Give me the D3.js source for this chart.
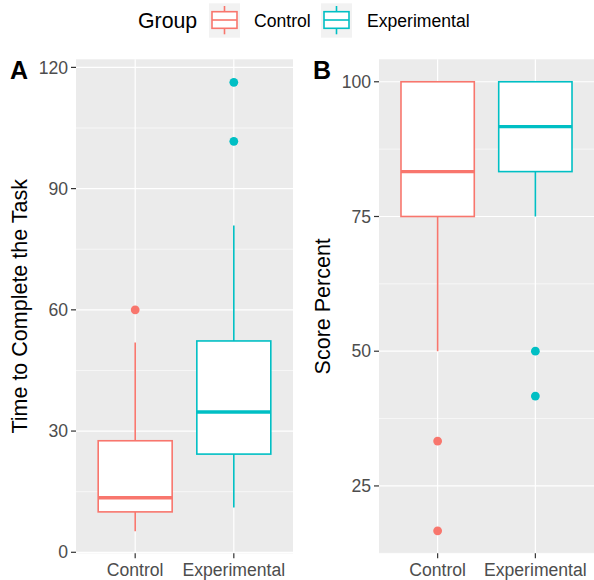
<!DOCTYPE html>
<html><head><meta charset="utf-8">
<script src="https://cdn.jsdelivr.net/npm/d3@7"></script>
<style>body{margin:0;background:#fff}svg{display:block}</style>
</head><body>
<svg id="chart" width="594" height="580"></svg>
<script>
const groups = ["Control", "Experimental"];
const colors = ["#F8766D", "#00BFC4"];
// Panel A: Time to Complete the Task
const timeQ1 = [10, 24.3];
const timeMedian = [13.5, 34.7];
const timeQ3 = [27.6, 52.3];
const timeWhiskLow = [5.2, 11.1];
const timeWhiskHigh = [51.9, 80.9];
const timeOutliers = [[60], [101.7, 116.3]];
const timeTicks = [0, 30, 60, 90, 120];
const timeMinor = [15, 45, 75, 105];
// Panel B: Score Percent
const scoreQ1 = [75, 83.33];
const scoreMedian = [83.33, 91.67];
const scoreQ3 = [100, 100];
const scoreWhiskLow = [50, 75];
const scoreWhiskHigh = [100, 100];
const scoreOutliers = [[33.33, 16.67], [50, 41.67]];
const scoreTicks = [25, 50, 75, 100];
const scoreMinor = [12.5, 37.5, 62.5, 87.5];

const svg = d3.select("#chart");
const tickCol = "#4D4D4D";
const FONT = "Liberation Sans, Arial, sans-serif";

function panel(opt) {
  // discrete axis with 0.6 expansion on each side
  const x = d3.scalePoint().domain(groups).range([opt.x0, opt.x1]).padding(0.6);
  const step = x.step();
  const y = d3.scaleLinear().domain(opt.yDomain).range([opt.y1, opt.y0]);
  const g = svg.append("g");
  g.append("rect").attr("x", opt.x0).attr("y", opt.y0).attr("width", opt.x1 - opt.x0).attr("height", opt.y1 - opt.y0).attr("fill", "#EBEBEB");
  g.selectAll(".minor").data(opt.minor.filter(v => y(v) >= opt.y0 && y(v) <= opt.y1)).enter().append("line")
    .attr("x1", opt.x0).attr("x2", opt.x1).attr("y1", d => y(d)).attr("y2", d => y(d))
    .attr("stroke", "#fff").attr("stroke-width", 0.6);
  g.selectAll(".major").data(opt.ticks).enter().append("line")
    .attr("x1", opt.x0).attr("x2", opt.x1).attr("y1", d => y(d)).attr("y2", d => y(d))
    .attr("stroke", "#fff").attr("stroke-width", 1.2);
  g.selectAll(".vmajor").data(groups).enter().append("line")
    .attr("x1", d => x(d)).attr("x2", d => x(d)).attr("y1", opt.y0).attr("y2", opt.y1)
    .attr("stroke", "#fff").attr("stroke-width", 1.2);
  g.selectAll(".yt").data(opt.ticks).enter().append("line")
    .attr("x1", opt.x0 - 5).attr("x2", opt.x0).attr("y1", d => y(d)).attr("y2", d => y(d))
    .attr("stroke", "#333").attr("stroke-width", 1.2);
  g.selectAll(".yl").data(opt.ticks).enter().append("text")
    .attr("x", opt.x0 - 8).attr("y", d => y(d)).attr("dy", "0.35em").attr("text-anchor", "end")
    .attr("font-family", FONT).attr("font-size", 17.6).attr("fill", tickCol)
    .text(d => d);
  g.selectAll(".xt").data(groups).enter().append("line")
    .attr("x1", d => x(d)).attr("x2", d => x(d)).attr("y1", opt.y1).attr("y2", opt.y1 + 5)
    .attr("stroke", "#333").attr("stroke-width", 1.2);
  g.selectAll(".xl").data(groups).enter().append("text")
    .attr("x", d => x(d)).attr("y", 576).attr("text-anchor", "middle")
    .attr("font-family", FONT).attr("font-size", 17.6).attr("fill", tickCol)
    .text(d => d);
  const bw = 0.75 * step;
  groups.forEach((grp, i) => {
    const cx = x(grp), col = colors[i];
    if (opt.wh[i] > opt.q3[i])
      g.append("line").attr("x1", cx).attr("x2", cx).attr("y1", y(opt.q3[i])).attr("y2", y(opt.wh[i])).attr("stroke", col).attr("stroke-width", 1.6);
    if (opt.wl[i] < opt.q1[i])
      g.append("line").attr("x1", cx).attr("x2", cx).attr("y1", y(opt.q1[i])).attr("y2", y(opt.wl[i])).attr("stroke", col).attr("stroke-width", 1.6);
    g.append("rect").attr("x", cx - bw / 2).attr("width", bw)
      .attr("y", y(opt.q3[i])).attr("height", y(opt.q1[i]) - y(opt.q3[i]))
      .attr("fill", "#fff").attr("stroke", col).attr("stroke-width", 1.6);
    g.append("line").attr("x1", cx - bw / 2).attr("x2", cx + bw / 2).attr("y1", y(opt.med[i])).attr("y2", y(opt.med[i]))
      .attr("stroke", col).attr("stroke-width", 3.4);
    g.selectAll(null).data(opt.out[i]).enter().append("circle")
      .attr("cx", cx).attr("cy", d => y(d)).attr("r", 4.4).attr("fill", col);
  });
  g.append("text").attr("transform", `translate(${opt.titleX},${(opt.y0 + opt.y1) / 2}) rotate(-90)`)
    .attr("text-anchor", "middle").attr("font-family", FONT).attr("font-size", 21.5).attr("fill", "#000")
    .text(opt.title);
  g.append("text").attr("x", opt.tagX).attr("y", 78.5).attr("font-family", FONT)
    .attr("font-size", 25).attr("font-weight", "bold").attr("fill", "#000").text(opt.tag);
}

panel({x0: 76, x1: 293, y0: 59.3, y1: 553.3, yDomain: [-0.25, 122], ticks: timeTicks, minor: timeMinor,
  q1: timeQ1, med: timeMedian, q3: timeQ3, wl: timeWhiskLow, wh: timeWhiskHigh, out: timeOutliers,
  title: "Time to Complete the Task", titleX: 27, tag: "A", tagX: 10});
panel({x0: 379, x1: 594, y0: 59.3, y1: 553.3, yDomain: [12.5, 104.17], ticks: scoreTicks, minor: scoreMinor,
  q1: scoreQ1, med: scoreMedian, q3: scoreQ3, wl: scoreWhiskLow, wh: scoreWhiskHigh, out: scoreOutliers,
  title: "Score Percent", titleX: 330, tag: "B", tagX: 313});

const lg = svg.append("g");
lg.append("text").attr("x", 138).attr("y", 28).attr("font-family", FONT)
  .attr("font-size", 21.3).attr("fill", "#000").text("Group");
const keyX = [209, 321];
const labX = [254, 367];
groups.forEach((grp, i) => {
  const kx = keyX[i];
  lg.append("rect").attr("x", kx).attr("y", 3.3).attr("width", 31).attr("height", 34.4).attr("fill", "#F2F2F2");
  const cx = kx + 15.5;
  lg.append("line").attr("x1", cx).attr("x2", cx).attr("y1", 6).attr("y2", 34.3).attr("stroke", colors[i]).attr("stroke-width", 1.6);
  lg.append("rect").attr("x", kx + 3).attr("y", 11.7).attr("width", 25).attr("height", 16.6)
    .attr("fill", "#fff").attr("stroke", colors[i]).attr("stroke-width", 1.6);
  lg.append("line").attr("x1", kx + 3).attr("x2", kx + 28).attr("y1", 20).attr("y2", 20).attr("stroke", colors[i]).attr("stroke-width", 1.6);
  lg.append("text").attr("x", labX[i]).attr("y", 27).attr("font-family", FONT)
    .attr("font-size", 17.6).attr("fill", "#000").text(grp);
});
</script>
</body></html>
